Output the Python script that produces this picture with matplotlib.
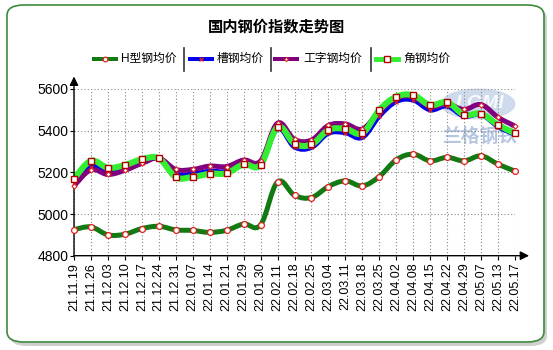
import numpy as np
import matplotlib.pyplot as plt
from matplotlib.path import Path
from matplotlib.patches import PathPatch, FancyBboxPatch, Ellipse
from matplotlib.lines import Line2D

plt.rcParams['font.family'] = ['Liberation Sans', 'Noto Sans CJK SC', 'DejaVu Sans']

dates = ['21.11.19', '21.11.26', '21.12.03', '21.12.10', '21.12.17', '21.12.24',
         '21.12.31', '22.01.07', '22.01.14', '22.01.21', '22.01.29', '22.01.30',
         '22.02.11', '22.02.18', '22.02.25', '22.03.04', '22.03.11', '22.03.18',
         '22.03.25', '22.04.02', '22.04.08', '22.04.15', '22.04.22', '22.04.29',
         '22.05.07', '22.05.13', '22.05.17']

h_beam = [4925, 4938, 4900, 4903, 4930, 4941, 4924, 4921, 4912, 4922, 4952, 4948,
          5154, 5090, 5079, 5132, 5159, 5135, 5180, 5260, 5287, 5255, 5272, 5255,
          5279, 5239, 5206]
channel = [5150, 5228, 5207, 5218, 5245, 5268, 5192, 5192, 5205, 5205, 5245, 5240,
           5410, 5322, 5320, 5388, 5390, 5368, 5470, 5540, 5547, 5500, 5518, 5470,
           5478, 5420, 5382]
i_beam = [5135, 5212, 5190, 5210, 5243, 5268, 5214, 5214, 5230, 5228, 5259, 5255,
          5436, 5358, 5355, 5425, 5432, 5408, 5492, 5556, 5562, 5515, 5528, 5502,
          5525, 5464, 5422]
angle = [5170, 5255, 5222, 5235, 5263, 5267, 5177, 5178, 5193, 5196, 5238, 5236,
         5417, 5338, 5334, 5403, 5409, 5388, 5499, 5563, 5570, 5523, 5536, 5477,
         5481, 5428, 5387]

series = [
    ('H型钢均价', h_beam, '#137a13', 3.6, dict(marker='o', ms=4.2, mfc='white', mec='#e02020', mew=0.9)),
    ('槽钢均价', channel, '#0000ee', 3.6, dict(marker='x', ms=3, mfc='none', mec='#e02020', mew=0.9)),
    ('工字钢均价', i_beam, '#800080', 3.6, dict(marker='D', ms=2.6, mfc='white', mec='#e02020', mew=0.8)),
    ('角钢均价', angle, '#33ee33', 4.4, dict(marker='s', ms=4.6, mfc='white', mec='#b00000', mew=1.0)),
]


def smooth_path(x, y, t=0.18):
    # cubic bezier segments through the points (catmull-rom style controls)
    p = np.column_stack([x, y]).astype(float)
    n = len(p)
    verts = [p[0]]
    codes = [Path.MOVETO]
    for i in range(n - 1):
        p0 = p[i - 1] if i > 0 else p[i]
        p3 = p[i + 2] if i + 2 < n else p[i + 1]
        c1 = p[i] + (p[i + 1] - p0) * t
        c2 = p[i + 1] - (p3 - p[i]) * t
        verts += [c1, c2, p[i + 1]]
        codes += [Path.CURVE4] * 3
    return Path(verts, codes)


W, H = 553, 350
fig = plt.figure(figsize=(W / 100, H / 100), dpi=100)

# rounded frame with shadow
shadow = FancyBboxPatch((10 / W, 1 - 346 / H), 537 / W, 338 / H,
                        boxstyle='round,pad=0,rounding_size=0.03',
                        transform=fig.transFigure, facecolor='#b0b0b0',
                        edgecolor='none', alpha=0.6, zorder=0)
frame = FancyBboxPatch((7 / W, 1 - 342 / H), 537 / W, 337 / H,
                       boxstyle='round,pad=0,rounding_size=0.03',
                       transform=fig.transFigure, facecolor='white',
                       edgecolor='#3d8a3d', linewidth=1.2, zorder=1)
fig.patches.extend([shadow, frame])

fig.text(276 / W, 1 - 27 / H, '国内钢价指数走势图', ha='center', va='center',
         fontsize=11, fontweight='bold', zorder=5)

# legend drawn by hand, with separators
ly = 1 - 59 / H
leg_items = [(94, 121), (190, 217), (275, 303), (376, 403)]
for (x0, tx), (name, _, color, lw, mk) in zip(leg_items, series):
    fig.add_artist(Line2D([x0 / W, (x0 + 22) / W], [ly, ly], color=color, lw=lw * 0.8,
                          transform=fig.transFigure, zorder=5))
    fig.add_artist(Line2D([(x0 + 11) / W], [ly], transform=fig.transFigure, zorder=6,
                          ls='none', **{**mk, 'ms': mk['ms'] * 0.8}))
    fig.text(tx / W, ly, name, ha='left', va='center', fontsize=8.5, zorder=5)
for sx in [184, 271, 371]:
    fig.add_artist(Line2D([sx / W, sx / W], [1 - 48 / H, 1 - 71 / H], color='#333333',
                          lw=1.2, transform=fig.transFigure, zorder=5))

# watermark
fig.patches.append(Ellipse((478 / W, 1 - 104 / H), 74 / W, 30 / H,
                           transform=fig.transFigure, facecolor='#a9bddd',
                           edgecolor='#c8d4e8', alpha=0.55, zorder=2))
fig.text(480 / W, 1 - 103 / H, 'LGMI', ha='center', va='center', fontsize=14,
         color='white', alpha=0.85, fontweight='bold', style='italic', zorder=2)
fig.text(480 / W, 1 - 137 / H, '兰格钢铁', ha='center', va='center', fontsize=13.5,
         color='#a9bddd', alpha=0.85, fontweight='bold', zorder=2)

ax = fig.add_axes([74 / W, 1 - 255.7 / H, 441 / W, 166.7 / H])
ax.patch.set_alpha(0)
ax.set_zorder(3)
x = np.arange(len(dates))

for name, vals, color, lw, mk in series:
    ax.add_patch(PathPatch(smooth_path(x, vals), facecolor='none', edgecolor=color,
                           lw=lw, capstyle='round', joinstyle='round', zorder=3))
for name, vals, color, lw, mk in series:
    ax.plot(x, vals, ls='none', zorder=4, clip_on=False, **mk)

ax.set_xlim(0, len(dates) - 1)
ax.set_ylim(4800, 5600)
ax.set_yticks([4800, 5000, 5200, 5400, 5600])
ax.set_xticks(x)
ax.set_xticklabels(dates, rotation=90, fontsize=9)
ax.tick_params(axis='y', labelsize=10, length=3, width=0.8, pad=1)
ax.tick_params(axis='x', length=3, width=0.8, pad=2)
ax.grid(True, color='#888888', linestyle=(0, (1, 2)), linewidth=0.8)
for s in ax.spines.values():
    s.set_visible(False)

ax.annotate('', xy=(0, 1.075), xytext=(0, 0), xycoords='axes fraction',
            arrowprops=dict(arrowstyle='-|>', color='black', lw=1, mutation_scale=13,
                            shrinkA=0, shrinkB=0))
ax.annotate('', xy=(1.032, 0), xytext=(0, 0), xycoords='axes fraction',
            arrowprops=dict(arrowstyle='-|>', color='black', lw=1, mutation_scale=13,
                            shrinkA=0, shrinkB=0))

plt.savefig('out.png', dpi=100)
